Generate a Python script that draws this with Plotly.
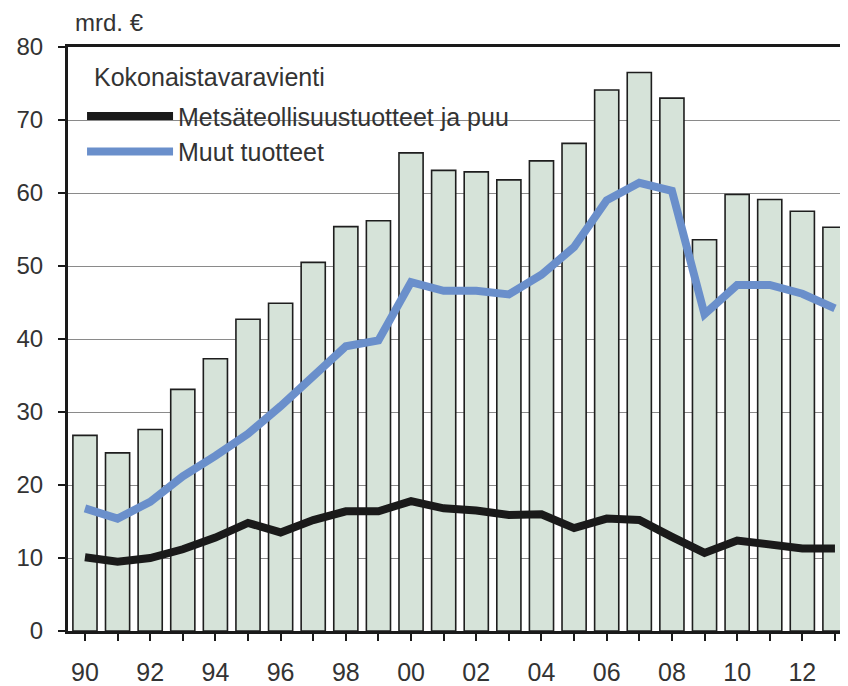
import plotly.graph_objects as go

years = list(range(1990, 2014))
total_exports = [26.8, 24.4, 27.6, 33.1, 37.3, 42.7, 44.9, 50.5, 55.4, 56.2,
                 65.5, 63.1, 62.9, 61.8, 64.4, 66.8, 74.1, 76.5, 73.0, 53.6,
                 59.8, 59.1, 57.5, 55.3]
forest_products = [10.1, 9.5, 10.0, 11.2, 12.8, 14.8, 13.5, 15.2, 16.4, 16.4,
                   17.8, 16.8, 16.5, 15.9, 16.0, 14.1, 15.4, 15.2, 12.9, 10.7,
                   12.4, 11.8, 11.3, 11.3]
other_products = [16.8, 15.4, 17.7, 21.2, 24.0, 27.0, 30.8, 34.8, 39.0, 39.8,
                  47.8, 46.6, 46.6, 46.1, 48.8, 52.6, 59.0, 61.4, 60.3, 43.4,
                  47.4, 47.4, 46.2, 44.2]
tick_text = [str(y)[2:] if y % 2 == 0 else "" for y in years]
y_ticks = [0, 10, 20, 30, 40, 50, 60, 70, 80]

FONT = "Liberation Sans, Arial, sans-serif"
TXT = "#333333"

fig = go.Figure()
fig.add_trace(go.Bar(
    x=years, y=total_exports, width=0.74,
    marker=dict(color="#d6e3d9", line=dict(color="#1e1e1e", width=1.6)),
    name="Kokonaistavaravienti", showlegend=False,
))
fig.add_trace(go.Scatter(
    x=years, y=forest_products, mode="lines",
    line=dict(color="#1a1a1a", width=8),
    name="Metsäteollisuustuotteet ja puu",
))
fig.add_trace(go.Scatter(
    x=years, y=other_products, mode="lines",
    line=dict(color="#6a8fcb", width=8),
    name="Muut tuotteet",
))

# page body has an 8px margin: figure is 8px smaller and margins shifted
fig.update_layout(
    width=840, height=678,
    margin=dict(l=60, r=0, t=39, b=55, autoexpand=False),
    paper_bgcolor="white", plot_bgcolor="white",
    font=dict(family=FONT, size=24, color=TXT),
    legend=dict(
        x=0.018, y=0.921, xanchor="left", yanchor="top",
        bgcolor="rgba(0,0,0,0)", borderwidth=0,
        font=dict(size=25, color=TXT),
        itemwidth=86, tracegroupgap=0,
    ),
    xaxis=dict(
        range=[1989.48, 2013.4],
        tickvals=years, ticktext=tick_text,
        ticks="outside", ticklen=7, tickwidth=1.5, tickcolor="#1a1a1a",
        ticklabelstandoff=10,
        showline=True, linecolor="#1a1a1a", linewidth=3, mirror=True,
        showgrid=False, zeroline=False, automargin=False,
        tickfont=dict(size=25, color=TXT),
    ),
    yaxis=dict(
        range=[0, 80], tickvals=y_ticks,
        ticks="outside", ticklen=7, tickwidth=1.5, tickcolor="#1a1a1a",
        ticklabelstandoff=10,
        showline=True, linecolor="#1a1a1a", linewidth=3,
        showgrid=True, gridcolor="#8a8a8a", gridwidth=1,
        zeroline=False, automargin=False,
        tickfont=dict(size=24, color=TXT),
    ),
    shapes=[dict(
        type="rect", xref="paper", yref="paper",
        x0=0.018, x1=0.573, y0=0.86, y1=0.89,
        fillcolor="white", line=dict(width=0), layer="between",
    )],
    annotations=[
        dict(
            text="mrd. €", xref="paper", yref="paper", x=0.0064, y=1.0,
            xanchor="left", yanchor="bottom", yshift=9, showarrow=False,
            font=dict(size=24, color=TXT),
        ),
        dict(
            text="Kokonaistavaravienti", xref="paper", yref="paper",
            x=0.031, y=0.9486, xanchor="left", yanchor="middle",
            showarrow=False, font=dict(size=25, color=TXT),
        ),
    ],
)

fig.write_html("out.html")
